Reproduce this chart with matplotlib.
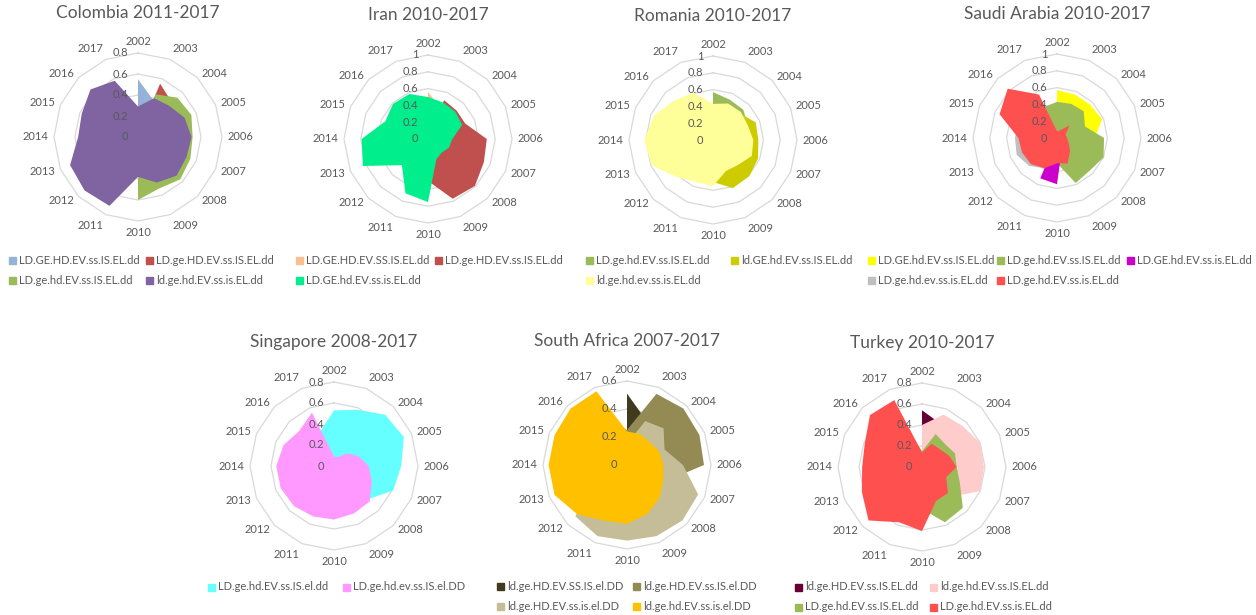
import numpy as np
import matplotlib
matplotlib.use("Agg")
import matplotlib.pyplot as plt
from matplotlib.patches import Rectangle

plt.rcParams['font.family'] = ['Lato', 'DejaVu Sans']

years = [str(y) for y in range(2002, 2018)]

# Colombia 2011-2017
colombia_names = ["LD.GE.HD.EV.ss.IS.EL.dd", "LD.ge.HD.EV.ss.IS.EL.dd",
                  "LD.ge.hd.EV.ss.IS.EL.dd", "ld.ge.hd.EV.ss.is.EL.dd"]
colombia_blue = [0.55, 0.38, 0, 0, 0, 0, 0, 0, 0, 0, 0, 0, 0, 0, 0, 0]
colombia_red = [0, 0.55, 0.46, 0, 0, 0, 0, 0, 0, 0, 0, 0, 0, 0, 0, 0]
colombia_green = [0, 0.44, 0.53, 0.55, 0.52, 0.54, 0.57, 0.53, 0.60, 0, 0, 0, 0, 0, 0, 0]
colombia_purple = [0.29, 0.40, 0.42, 0.48, 0.51, 0.50, 0.52, 0.47, 0.38, 0.71, 0.72, 0.70, 0.57, 0.58, 0.64, 0.58]

# Iran 2010-2017
iran_names = ["LD.GE.HD.EV.SS.IS.EL.dd", "LD.ge.HD.EV.ss.IS.EL.dd", "LD.GE.hd.EV.ss.is.EL.dd"]
iran_orange = [0.56, 0.40, 0, 0, 0, 0, 0, 0, 0, 0, 0, 0, 0, 0, 0, 0]
iran_red = [0, 0.50, 0.48, 0.48, 0.70, 0.72, 0.79, 0.77, 0.50, 0, 0, 0, 0, 0, 0, 0]
iran_green = [0.50, 0.47, 0.46, 0.44, 0.29, 0.27, 0.23, 0.26, 0.75, 0.70, 0.44, 0.84, 0.79, 0.55, 0.59, 0.58]

# Romania 2010-2017
romania_names = ["LD.ge.hd.EV.ss.IS.EL.dd", "ld.GE.hd.EV.ss.IS.EL.dd", "ld.ge.hd.ev.ss.is.EL.dd"]
romania_green = [0.57, 0.52, 0.51, 0.45, 0.45, 0.40, 0, 0, 0, 0, 0, 0, 0, 0, 0, 0]
romania_olive = [0, 0.40, 0.45, 0.55, 0.54, 0.58, 0.61, 0.62, 0.50, 0, 0, 0, 0, 0, 0, 0]
romania_yellow = [0.43, 0.47, 0.47, 0.45, 0.48, 0.50, 0.42, 0.40, 0.55, 0.54, 0.62, 0.79, 0.82, 0.76, 0.66, 0.61]

# Saudi Arabia 2010-2017
saudi_names = ["LD.GE.hd.EV.ss.IS.EL.dd", "LD.ge.hd.EV.ss.IS.EL.dd", "LD.GE.hd.EV.ss.is.EL.dd",
               "LD.ge.hd.ev.ss.is.EL.dd", "LD.ge.hd.EV.ss.is.EL.dd"]
saudi_yellow = [0.57, 0.56, 0.56, 0.58, 0.45, 0, 0, 0, 0, 0, 0, 0, 0, 0, 0, 0]
saudi_green = [0.43, 0.44, 0.45, 0.36, 0.56, 0.60, 0.55, 0.58, 0.30, 0.25, 0.25, 0.30, 0.30, 0.30, 0.35, 0.40]
saudi_magenta = [0, 0, 0, 0, 0, 0, 0, 0.15, 0.55, 0.52, 0, 0, 0, 0, 0, 0]
saudi_gray = [0, 0, 0, 0, 0, 0, 0, 0, 0, 0.39, 0.47, 0.52, 0.50, 0.50, 0, 0]
saudi_red = [0.08, 0.10, 0.21, 0.11, 0.12, 0.15, 0.22, 0.33, 0.30, 0.39, 0.44, 0.45, 0.46, 0.74, 0.83, 0.56]

# Singapore 2008-2017
singapore_names = ["LD.ge.hd.EV.ss.IS.el.dd", "LD.ge.hd.ev.ss.IS.el.DD"]
singapore_cyan = [0.53, 0.58, 0.69, 0.72, 0.64, 0.61, 0.45, 0, 0, 0, 0, 0, 0, 0, 0, 0.35]
singapore_pink = [0.09, 0.09, 0.17, 0.25, 0.33, 0.39, 0.48, 0.49, 0.51, 0.52, 0.54, 0.55, 0.55, 0.52, 0.47, 0.55]

# South Africa 2007-2017
safrica_names = ["ld.ge.HD.EV.SS.IS.el.DD", "ld.ge.HD.EV.ss.IS.el.DD",
                 "ld.ge.HD.EV.ss.is.el.DD", "ld.ge.hd.EV.ss.is.el.DD"]
safrica_dark = [0.51, 0.35, 0, 0, 0, 0, 0, 0, 0, 0, 0, 0, 0, 0, 0, 0]
safrica_olive = [0.25, 0.55, 0.57, 0.56, 0.55, 0.30, 0, 0, 0, 0, 0, 0, 0, 0, 0, 0.37]
safrica_tan = [0.15, 0.34, 0.37, 0.29, 0.40, 0.55, 0.56, 0.55, 0.54, 0.55, 0.52, 0.30, 0, 0, 0, 0]
safrica_gold = [0.24, 0.24, 0.23, 0.25, 0.26, 0.28, 0.33, 0.38, 0.42, 0.43, 0.50, 0.56, 0.56, 0.56, 0.57, 0.57]

# Turkey 2010-2017
turkey_names = ["ld.ge.HD.EV.ss.IS.EL.dd", "ld.ge.hd.EV.ss.IS.EL.dd",
                "LD.ge.hd.EV.ss.IS.EL.dd", "LD.ge.hd.EV.ss.is.EL.dd"]
turkey_maroon = [0.54, 0.45, 0, 0, 0, 0, 0, 0, 0, 0, 0, 0, 0, 0, 0, 0]
turkey_pink = [0.40, 0.54, 0.55, 0.60, 0.59, 0.60, 0.40, 0, 0, 0, 0, 0, 0, 0, 0, 0]
turkey_green = [0.15, 0.34, 0.31, 0.34, 0.33, 0.39, 0.55, 0.57, 0.40, 0, 0, 0, 0, 0, 0, 0.40]
turkey_red = [0.14, 0.24, 0.24, 0.28, 0.33, 0.25, 0.35, 0.35, 0.61, 0.57, 0.72, 0.62, 0.57, 0.59, 0.70, 0.69]

GRAY = '#595959'
W, H = 1256, 615

charts = [
    dict(title="Colombia 2011-2017", center=(138, 137), rmax=0.8,
         names=colombia_names,
         series=[colombia_blue, colombia_red, colombia_green, colombia_purple],
         colors=['#95B3D7', '#C0504D', '#9BBB59', '#8064A2'],
         legend=[(9, 260), (146, 260), (9, 280), (146, 280)]),
    dict(title="Iran 2010-2017", center=(428, 139), rmax=1.0,
         names=iran_names,
         series=[iran_orange, iran_red, iran_green],
         colors=['#FAC090', '#C0504D', '#00EE8C'],
         legend=[(296, 260), (435, 260), (296, 280)]),
    dict(title="Romania 2010-2017", center=(713, 140), rmax=1.0,
         names=romania_names,
         series=[romania_green, romania_olive, romania_yellow],
         colors=['#9BBB59', '#CCCC00', '#FFFF99'],
         legend=[(586, 260), (731, 260), (586, 280)]),
    dict(title="Saudi Arabia 2010-2017", center=(1057, 138), rmax=1.0,
         names=saudi_names,
         series=[saudi_yellow, saudi_green, saudi_magenta, saudi_gray, saudi_red],
         colors=['#FFFF00', '#9BBB59', '#CC00CC', '#BFBFBF', '#FF5050'],
         legend=[(868, 260), (997, 260), (1127, 260), (868, 280), (997, 280)]),
    dict(title="Singapore 2008-2017", center=(334, 466), rmax=0.8,
         names=singapore_names,
         series=[singapore_cyan, singapore_pink],
         colors=['#66FFFF', '#FF99FF'],
         legend=[(208, 587), (343, 587)]),
    dict(title="South Africa 2007-2017", center=(627, 465), rmax=0.6,
         names=safrica_names,
         series=[safrica_dark, safrica_olive, safrica_tan, safrica_gold],
         colors=['#403A1E', '#948A54', '#C4BD97', '#FFC000'],
         legend=[(497, 586), (633, 586), (497, 606), (633, 606)]),
    dict(title="Turkey 2010-2017", center=(922, 467), rmax=0.8,
         names=turkey_names,
         series=[turkey_maroon, turkey_pink, turkey_green, turkey_red],
         colors=['#660033', '#FFCCCC', '#9BBB59', '#FF5050'],
         legend=[(795, 587), (930, 587), (795, 607), (930, 607)]),
]

fig = plt.figure(figsize=(W / 100, H / 100), dpi=100)
R = 84  # outer ring radius in pixels
theta = np.deg2rad(np.arange(len(years)) * 22.5)
theta_c = np.append(theta, theta[0])

for ch in charts:
    cx, cy = ch['center']
    rmax = ch['rmax']
    ax = fig.add_axes([(cx - R) / W, 1 - (cy + R) / H, 2 * R / W, 2 * R / H], projection='polar')
    ax.set_theta_zero_location('N')
    ax.set_theta_direction(-1)
    ax.set_ylim(0, rmax)
    ax.grid(False)
    ax.set_xticks([])
    ax.set_yticks([])
    ax.spines['polar'].set_visible(False)
    ax.patch.set_alpha(0)

    rings = np.round(np.arange(0.2, rmax + 0.001, 0.2), 1)
    for r in rings:
        ax.plot(theta_c, [r] * len(theta_c), color='#D9D9D9', lw=0.9, zorder=1, clip_on=False)

    for vals, col in zip(ch['series'], ch['colors']):
        v = np.array(vals, dtype=float)
        ax.fill(theta_c, np.append(v, v[0]), color=col, lw=0, zorder=2)

    for r in np.concatenate([[0], rings]):
        lbl = "1" if r == 1 else ("0" if r == 0 else f"{r:.1f}")
        ax.annotate(lbl, xy=(0, r), xytext=(-7, 0), textcoords='offset points',
                    ha='right', va='center', fontsize=8, color=GRAY, zorder=5,
                    annotation_clip=False)

    for th, yr in zip(theta, years):
        s, c = np.sin(th), np.cos(th)
        ha = 'left' if s > 0.1 else ('right' if s < -0.1 else 'center')
        va = 'bottom' if c > 0.9 else ('top' if c < -0.9 else 'center')
        ax.annotate(yr, xy=(th, rmax), xytext=(4 * s, 4 * c), textcoords='offset points',
                    ha=ha, va=va, fontsize=8, color=GRAY, annotation_clip=False)

    fig.text(cx / W, 1 - (cy - 124) / H, ch['title'], ha='center', va='center',
             fontsize=12.5, color=GRAY)

    for (lx, ly), name, col in zip(ch['legend'], ch['names'], ch['colors']):
        fig.patches.append(Rectangle((lx / W, 1 - (ly + 3.5) / H), 7 / W, 7 / H,
                                     transform=fig.transFigure, color=col))
        fig.text((lx + 10) / W, 1 - ly / H, name, ha='left', va='center',
                 fontsize=8, color=GRAY)

fig.savefig("out.png", dpi=100, facecolor='white')
